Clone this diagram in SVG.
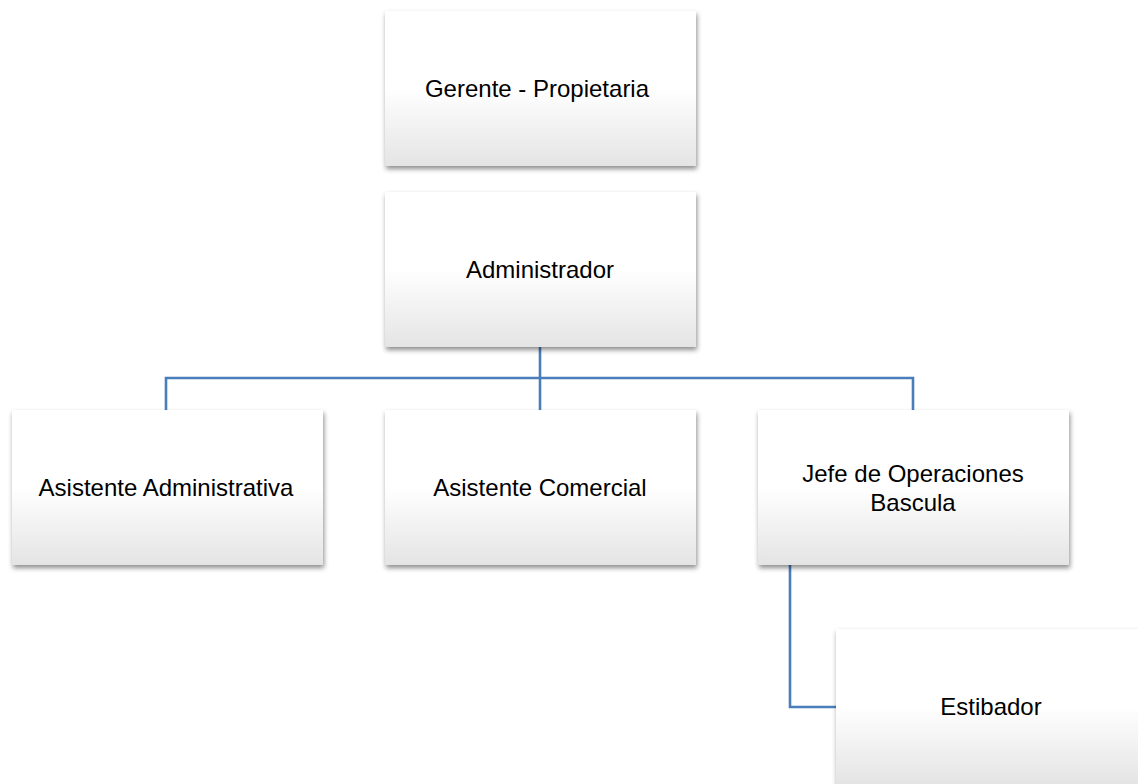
<svg xmlns="http://www.w3.org/2000/svg" width="1138" height="784" viewBox="0 0 1138 784">
  <defs>
    <linearGradient id="boxFill" x1="0" y1="0" x2="0" y2="1">
      <stop offset="0" stop-color="#ffffff"/>
      <stop offset="0.5" stop-color="#ffffff"/>
      <stop offset="1" stop-color="#e4e4e4"/>
    </linearGradient>
    <filter id="shadow" x="-10%" y="-10%" width="120%" height="130%">
      <feDropShadow dx="1" dy="3" stdDeviation="2.5" flood-color="#000" flood-opacity="0.45"/>
    </filter>
  </defs>
  <style>
    .box { fill: url(#boxFill); filter: url(#shadow); }
    .label { font-family: "Liberation Sans", Arial, sans-serif; font-size: 24px; fill: #000; text-anchor: middle; }
    .link { fill: none; stroke: #4a7ebb; stroke-width: 2.6; }
  </style>
  <rect width="1138" height="784" fill="#ffffff"/>

  <!-- connectors -->
  <g id="connectors">
    <path class="link" d="M540 347 V410"/>
    <path class="link" d="M166 410 V378 H913 V410"/>
    <path class="link" d="M790 565 V707 H836"/>
  </g>

  <g id="gerente">
    <rect class="box" x="385" y="11" width="311" height="155"/>
    <text class="label" x="537" y="97">Gerente - Propietaria</text>
  </g>

  <g id="administrador">
    <rect class="box" x="385" y="192" width="311" height="155"/>
    <text class="label" x="540" y="278">Administrador</text>
  </g>

  <g id="asistente-administrativa">
    <rect class="box" x="12" y="410" width="311" height="155"/>
    <text class="label" x="166" y="496">Asistente Administrativa</text>
  </g>

  <g id="asistente-comercial">
    <rect class="box" x="385" y="410" width="311" height="155"/>
    <text class="label" x="540" y="496">Asistente Comercial</text>
  </g>

  <g id="jefe-operaciones">
    <rect class="box" x="758" y="410" width="311" height="155"/>
    <text class="label" x="913" y="482">Jefe de Operaciones</text>
    <text class="label" x="913" y="511">Bascula</text>
  </g>

  <g id="estibador">
    <rect class="box" x="836" y="629" width="311" height="155"/>
    <text class="label" x="991" y="715">Estibador</text>
  </g>
</svg>
